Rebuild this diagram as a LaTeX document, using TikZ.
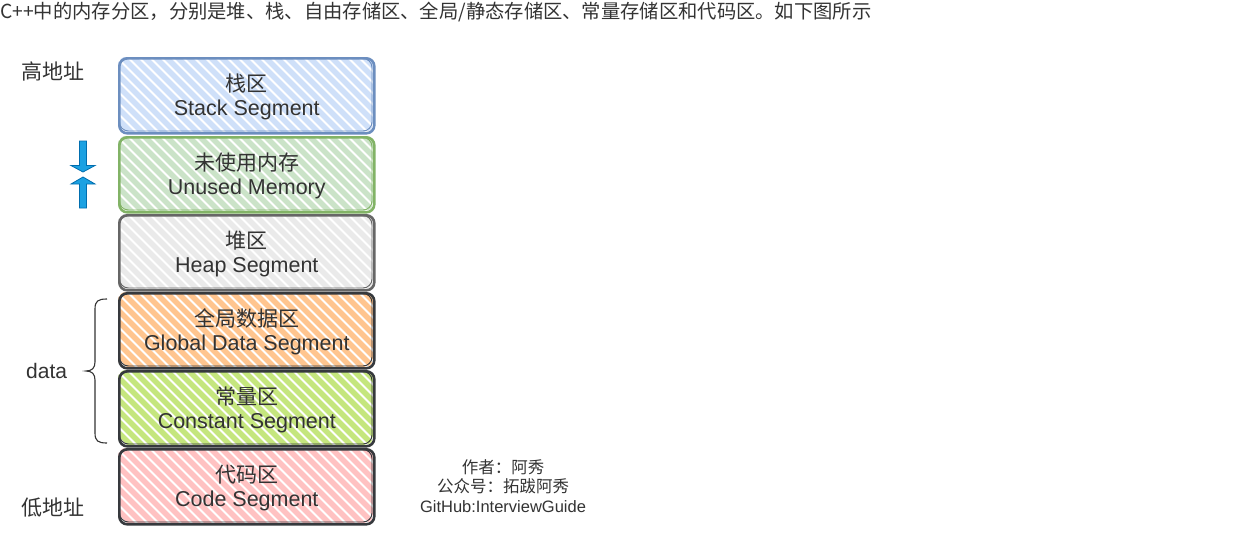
\documentclass[tikz,border=0pt]{standalone}
\usepackage{fontspec}
\setmainfont{Liberation Sans}
\newfontfamily\cjk{Noto Sans CJK SC}
\definecolor{txt}{HTML}{333333}
\definecolor{stackF}{HTML}{CFE0F9}
\definecolor{stackS}{HTML}{6C8EBF}
\definecolor{unusedF}{HTML}{CBE3C8}
\definecolor{unusedS}{HTML}{82B366}
\definecolor{heapF}{HTML}{EAEAEA}
\definecolor{heapS}{HTML}{666666}
\definecolor{globalF}{HTML}{FFC58F}
\definecolor{constF}{HTML}{C5E67E}
\definecolor{codeF}{HTML}{FFC2C2}
\definecolor{darkS}{HTML}{36393D}
\definecolor{arrowF}{HTML}{1BA1E2}
\definecolor{arrowS}{HTML}{006EAF}
\tikzset{
  segshape/.style={rectangle, rounded corners=8pt, line width=2.6pt,
    minimum width=255pt, minimum height=75pt, inner sep=0pt},
  cntext/.style={font=\cjk\fontsize{21}{24}\selectfont, text=txt, inner sep=0pt, anchor=base},
  entext/.style={font=\fontsize{21.5}{24}\selectfont, text=txt, inner sep=0pt, anchor=base},
  sidelabel/.style={font=\cjk\fontsize{21}{24}\selectfont, text=txt, inner sep=0pt, anchor=west},
  hatch/.style={line width=5.5pt},
  blockarrow/.style={fill=arrowF, draw=arrowS, line width=0.8pt, line join=miter},
}
% #1 name, #2 top y, #3 fill, #4 stroke, #5 chinese, #6 english
\newcommand\segbox[6]{%
  \begin{scope}
    \clip[rounded corners=8pt] (118,#2) rectangle (373,#2+75);
    \foreach \i in {-100,-89,...,270} \draw[hatch,#3] (118+\i,#2-5) -- ++(90,90);
  \end{scope}
  \node[segshape, draw=#4, anchor=north west] (#1) at (118,#2) {};
  \draw[#4, line width=0.9pt, rounded corners=9pt] (119.5,#2+1.5) rectangle (372,#2+74);
  \node[cntext] (#1cn) at ([yshift=4pt]#1.center) {#5};
  \node[entext] (#1en) at ([yshift=-19.5pt]#1.center) {#6};
}
\begin{document}
\begin{tikzpicture}[x=1pt,y=-1pt]
\useasboundingbox[fill=white] (0,0) rectangle (1236,536);

\node[anchor=west, inner sep=0pt, text=txt, font=\cjk\fontsize{19.3}{22}\selectfont] (title) at (0,12)
  {C++中的内存分区，分别是堆、栈、自由存储区、全局/静态存储区、常量存储区和代码区。如下图所示};

\segbox{stack}{57}{stackF}{stackS}{栈区}{Stack Segment}
\segbox{unused}{136}{unusedF}{unusedS}{未使用内存}{Unused Memory}
\segbox{heap}{214}{heapF}{heapS}{堆区}{Heap Segment}
\segbox{global}{292}{globalF}{darkS}{全局数据区}{Global Data Segment}
\segbox{const}{370}{constF}{darkS}{常量区}{Constant Segment}
\segbox{code}{448}{codeF}{darkS}{代码区}{Code Segment}

\node[sidelabel] (high) at (21,71) {高地址};
\node[sidelabel] (low) at (21,508) {低地址};
\node[anchor=west, inner sep=0pt, text=txt, font=\fontsize{21}{24}\selectfont] (data) at (26,371) {data};

% brace
\draw[txt, line width=1.1pt] (107,299) .. controls (98,299) and (95,301) .. (95,309) -- (95,362)
  .. controls (95,368) and (92,371) .. (86,371) .. controls (92,371) and (95,374) .. (95,380)
  -- (95,433) .. controls (95,441) and (98,443) .. (107,443);

% arrows
\filldraw[blockarrow] (79.5,141) -- (86.5,141) -- (86.5,165.5) -- (95,165.5) -- (83,172)
  -- (71,165.5) -- (79.5,165.5) -- cycle;
\filldraw[blockarrow] (79.5,208) -- (86.5,208) -- (86.5,184) -- (95,184) -- (83,177)
  -- (71,184) -- (79.5,184) -- cycle;

\node[align=center, text=txt, inner sep=0pt, font=\fontsize{16.5}{19.5}\selectfont] (credit) at (503,486)
  {{\cjk 作者：阿秀}\\{\cjk 公众号：拓跋阿秀}\\GitHub:InterviewGuide};
\end{tikzpicture}
\end{document}
